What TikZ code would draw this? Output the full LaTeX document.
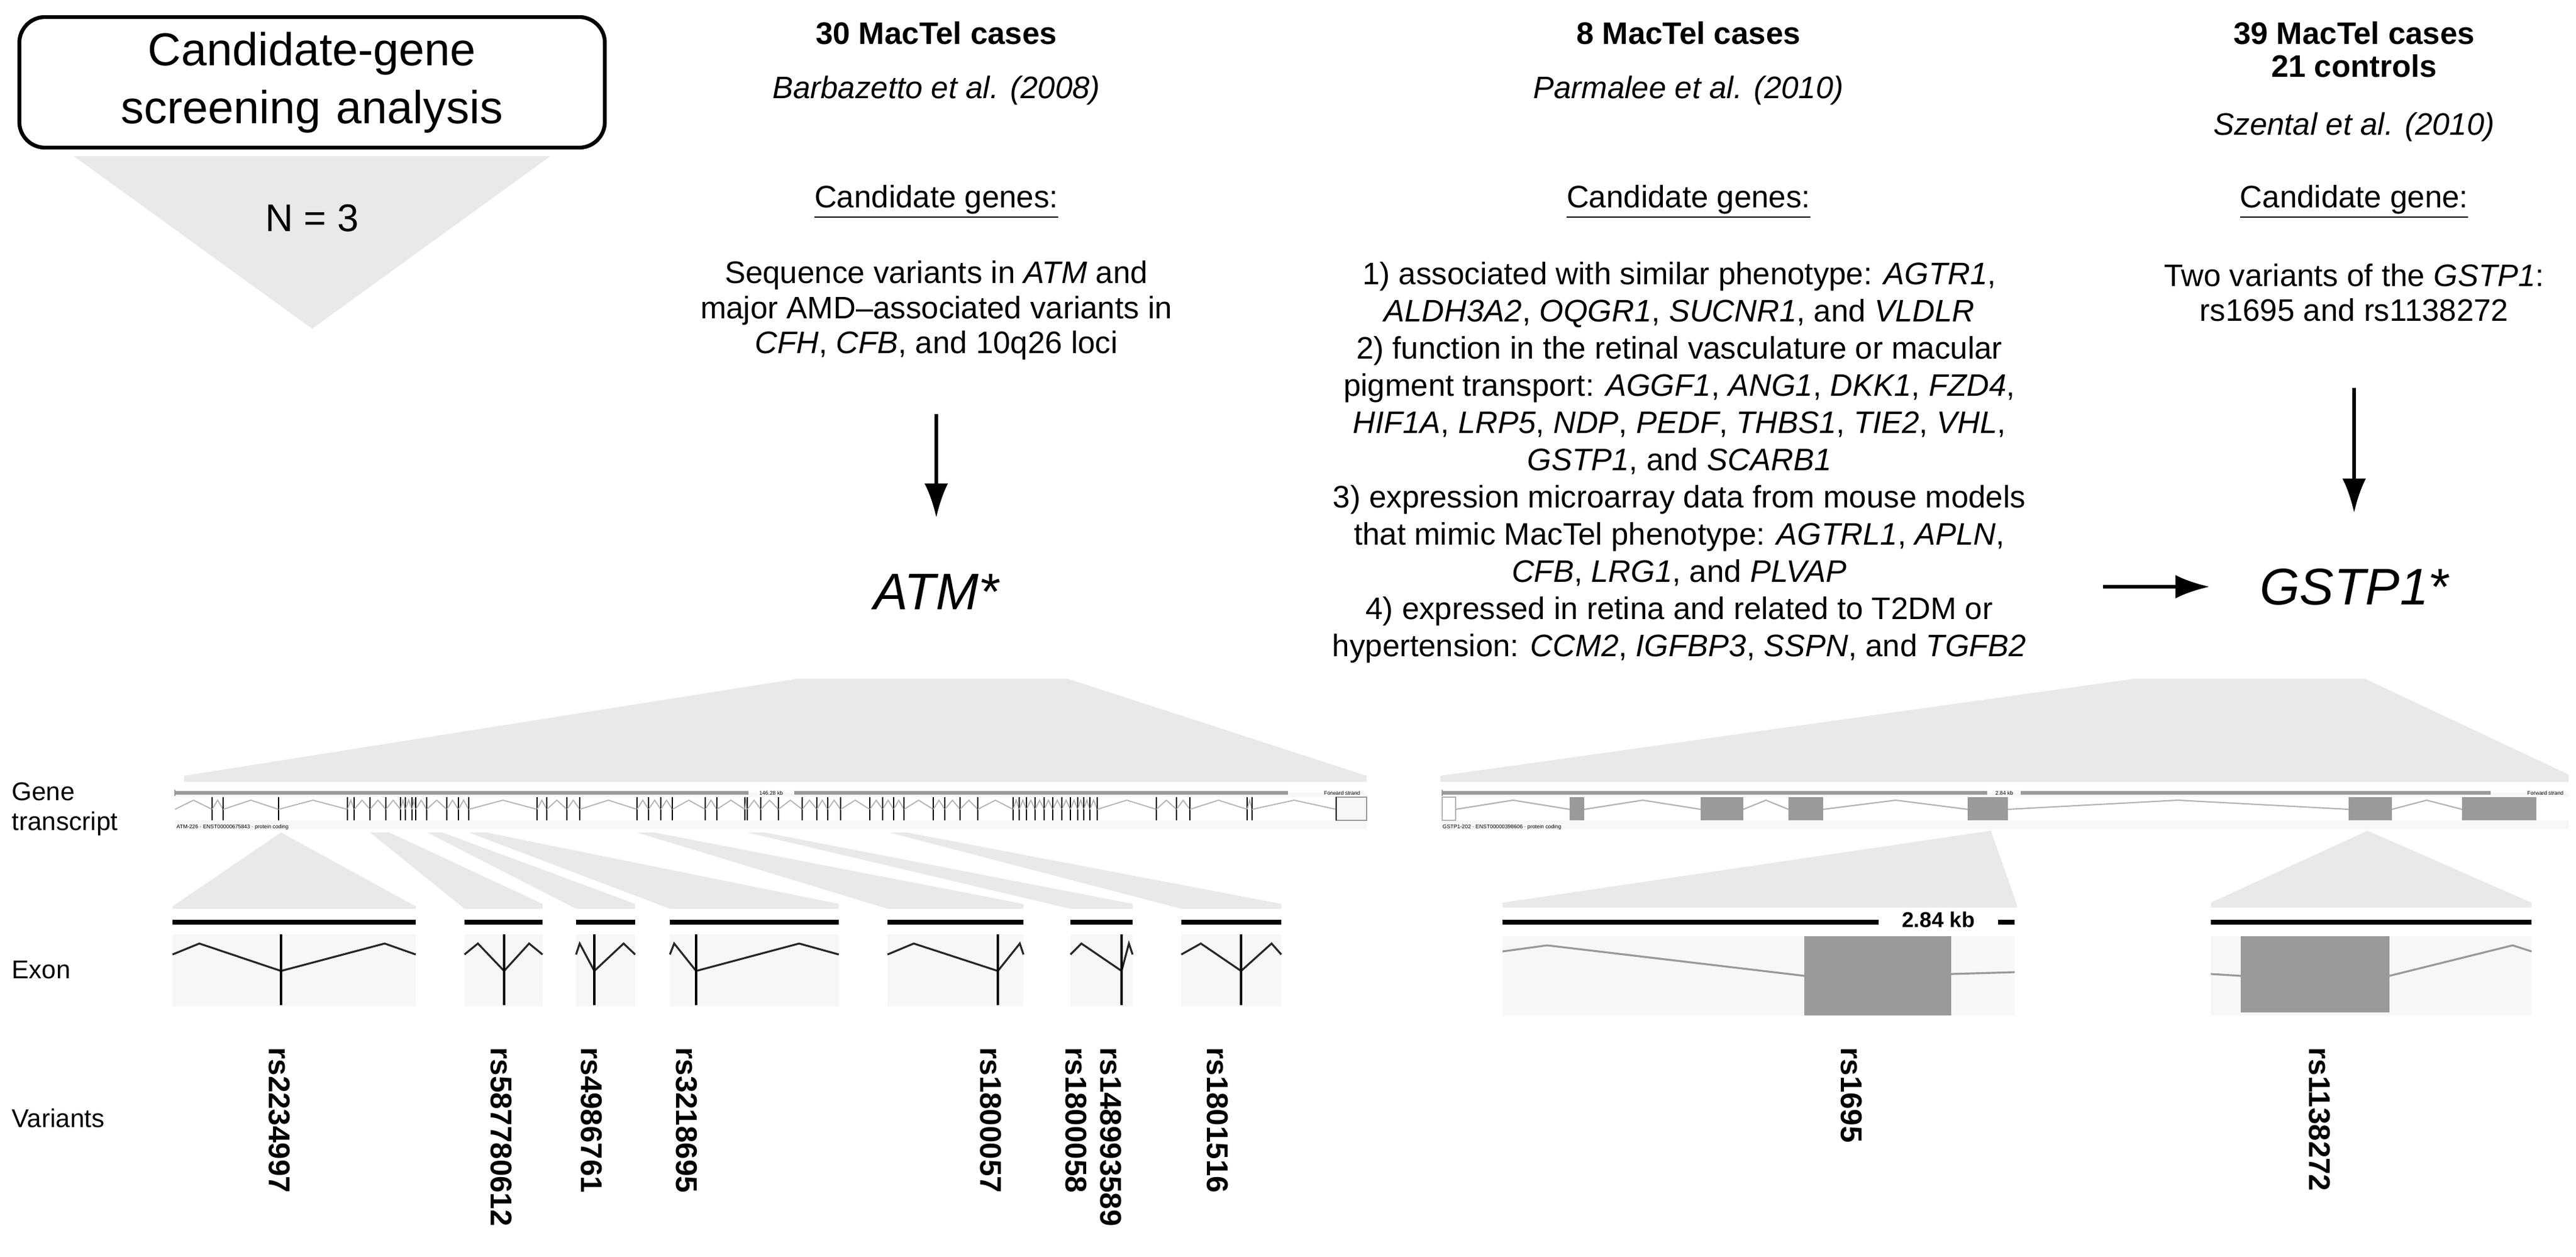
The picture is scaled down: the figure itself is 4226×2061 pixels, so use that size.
\documentclass[tikz,border=0pt]{standalone}
\usepackage{fontspec}
\setmainfont{Liberation Sans}
\usetikzlibrary{arrows.meta}
\definecolor{trap}{HTML}{E9E9E9}
\definecolor{boxbg}{HTML}{F7F7F7}
\definecolor{exong}{HTML}{9A9A9A}
\begin{document}
\begin{tikzpicture}[x=0.01cm,y=-0.01cm,
  txt/.style={font=\fontsize{14.5}{17.4}\selectfont,align=center,inner sep=0},
  hd/.style={txt,font=\fontsize{14.5}{17.4}\selectfont\bfseries},
  cite/.style={txt,font=\fontsize{14.5}{17.4}\selectfont\itshape},
  gene/.style={inner sep=0,font=\fontsize{24}{28}\selectfont\itshape},
  arr/.style={-{Latex[length=16pt,width=11pt]},line width=1.6pt},
  var/.style={rotate=-90,anchor=west,inner sep=0,font=\fontsize{14}{16}\selectfont\bfseries},
  side/.style={anchor=west,inner sep=0,font=\fontsize{12}{14}\selectfont,align=left},
  tr/.style={fill=trap,draw=none},
  bx/.style={fill=boxbg,draw=none},
  intr/.style={draw=gray!70,line width=0.6pt},
  exl/.style={draw=black,line width=1.4pt}]
\useasboundingbox (0,0) rectangle (4226,2061);

% title
\fill[trap] (121,256) -- (903,256) -- (512,539) -- cycle;
\node[draw,line width=1.8pt,rounded corners=12pt,inner sep=0,
  text width=9.6cm,minimum height=2.14cm,align=center,font=\fontsize{21.5}{27}\selectfont] (title) at (512,135)
  {Candidate-gene\\screening analysis};
\node[txt,font=\fontsize{18}{22}\selectfont] (n3) at (512,358) {N = 3};

% column 1
\node[hd] (c1h) at (1536,54) {30 MacTel cases};
\node[cite] (c1c) at (1536,148) {Barbazetto et al. (2008)};
\node[txt] (c1u) at (1536,331) {\underline{Candidate genes:}};
\node[txt,font=\fontsize{14.5}{16.3}\selectfont] (c1t) at (1536,509) {Sequence variants in \textit{ATM} and\\major AMD–associated variants in\\\textit{CFH}, \textit{CFB}, and 10q26 loci};
\node[gene] (atm) at (1536,970) {ATM*};
\coordinate (a1s) at (1536,679);
\draw[arr] (a1s) -- (1536,849);

% column 2
\node[hd] (c2h) at (2770,54) {8 MacTel cases};
\node[cite] (c2c) at (2770,148) {Parmalee et al. (2010)};
\node[txt] (c2u) at (2770,331) {\underline{Candidate genes:}};
\node[txt,font=\fontsize{14.5}{17.35}\selectfont] (c2t) at (2755,758) {1) associated with similar phenotype: \textit{AGTR1},\\
\textit{ALDH3A2}, \textit{OQGR1}, \textit{SUCNR1}, and \textit{VLDLR}\\
2) function in the retinal vasculature or macular\\
pigment transport: \textit{AGGF1}, \textit{ANG1}, \textit{DKK1}, \textit{FZD4},\\
\textit{HIF1A}, \textit{LRP5}, \textit{NDP}, \textit{PEDF}, \textit{THBS1}, \textit{TIE2}, \textit{VHL},\\
\textit{GSTP1}, and \textit{SCARB1}\\
3) expression microarray data from mouse models\\
that mimic MacTel phenotype: \textit{AGTRL1}, \textit{APLN},\\
\textit{CFB}, \textit{LRG1}, and \textit{PLVAP}\\
4) expressed in retina and related to T2DM or\\
hypertension: \textit{CCM2}, \textit{IGFBP3}, \textit{SSPN}, and \textit{TGFB2}};

% column 3
\node[hd] (c3h) at (3862,54) {39 MacTel cases};
\node[hd] (c3h2) at (3862,108) {21 controls};
\node[cite] (c3c) at (3862,208) {Szental et al. (2010)};
\node[txt] (c3u) at (3862,331) {\underline{Candidate gene:}};
\node[txt,font=\fontsize{14.5}{16.3}\selectfont] (c3t) at (3862,480) {Two variants of the \textit{GSTP1}:\\rs1695 and rs1138272};
\node[gene] (gst) at (3862,962) {GSTP1*};
\coordinate (a3s) at (3862,636);
\draw[arr] (a3s) -- (3862,841);
\coordinate (h1) at (3450,962);
\draw[arr] (h1) -- (3625,962);

% left labels
\node[side] (lg) at (19,1327) {Gene\\transcript};
\node[side] (le) at (19,1590) {Exon};
\node[side] (lv) at (19,1833) {Variants};

% ===== ATM =====
\fill[trap] (1307,1113) -- (1752,1113) -- (2242,1272) -- (2242,1282) -- (302,1282) -- (302,1272) -- cycle;
\fill[boxbg] (287,1300) rectangle (2242,1360);
\draw[gray!80,line width=1.6pt] (287,1300) -- (1228,1300) (1303,1300) -- (2113,1300);
\draw[gray!80,line width=0.8pt] (287,1295) -- (287,1305);
\node[inner sep=0,font=\fontsize{2.5}{3}\selectfont] (atmkb) at (1265,1300) {146.28 kb};
\node[inner sep=0,anchor=east,font=\fontsize{2.5}{3}\selectfont] (atmfs) at (2232,1300) {Forward strand};
\node[inner sep=0,anchor=west,font=\fontsize{2.5}{3}\selectfont] (atmlab) at (289,1356) {ATM-226 · ENST00000675843 · protein coding};
\fill[white] (287,1307) rectangle (2192,1345);
\draw[gray!80] (2192,1307) rectangle (2242,1345);
\foreach \x [remember=\x as \lx (initially 287)] in {348,366,457,570,581,607,633,657,665,676,682,700,733,752,769,881,897,930,951,1045,1064,1084,1103,1157,1176,1222,1226,1248,1277,1316,1340,1358,1379,1427,1448,1466,1483,1531,1550,1575,1604,1662,1672,1684,1698,1713,1727,1742,1756,1768,1778,1788,1800,1897,1930,1952,2046,2054,2192}{
  \draw[gray!60,line width=0.5pt] (\lx,1327) -- ({(\lx+\x)/2},1312) -- (\x,1327);
  \draw[black,line width=0.8pt] (\x,1307) -- (\x,1345);
}
% exon zoom bands
\fill[trap] (461,1365) -- (682,1486) -- (682,1490) -- (283,1490) -- (283,1486) -- cycle;
\foreach \ta/\tb/\ba/\bb in {607/639/762/890, 701/726/945/1042, 769/798/1099/1376, 1045/1074/1456/1679, 1226/1255/1756/1858, 1459/1488/1938/2102}
  \fill[trap] (\ta,1365) -- (\tb,1365) -- (\bb,1482) -- (\bb,1490) -- (\ba,1490) -- cycle;
% exon boxes
\foreach \l/\r/\c/\pa/\pb in {283/682/461/327/631, 762/890/827/784/868, 945/1042/975/951/1023, 1099/1376/1142/1106/1311, 1456/1679/1637/1499/1673, 1756/1858/1840/1774/1852, 1938/2102/2036/1970/2086}{
  \fill[boxbg] (\l,1532) rectangle (\r,1650);
  \draw[black,line width=2.2pt] (\l,1512) -- (\r,1512);
  \draw[gray!30!black,line width=0.9pt] (\l,1565) -- (\pa,1547) -- (\c,1592) -- (\pb,1547) -- (\r,1565);
  \draw[exl] (\c,1532) -- (\c,1648);
}
% variants
\node[var] (v1) at (458,1717) {rs2234997};
\node[var] (v2) at (822,1717) {rs587780612};
\node[var] (v3) at (970,1717) {rs4986761};
\node[var] (v4) at (1126,1717) {rs3218695};
\node[var] (v5) at (1625,1717) {rs1800057};
\node[var] (v6) at (1765,1717) {rs1800058};
\node[var] (v7) at (1822,1717) {rs148993589};
\node[var] (v8) at (1997,1717) {rs1801516};

% ===== GSTP1 =====
\fill[trap] (3500,1113) -- (3880,1113) -- (4214,1270) -- (4214,1282) -- (2363,1282) -- (2363,1272) -- cycle;
\fill[boxbg] (2363,1300) rectangle (4214,1360);
\draw[gray!80,line width=1.6pt] (2366,1300) -- (3260,1300) (3315,1300) -- (4086,1300);
\draw[gray!80,line width=0.8pt] (2366,1295) -- (2366,1305);
\node[inner sep=0,font=\fontsize{2.5}{3}\selectfont] (gkb) at (3288,1300) {2.84 kb};
\node[inner sep=0,anchor=east,font=\fontsize{2.5}{3}\selectfont] (gfs) at (4206,1300) {Forward strand};
\node[inner sep=0,anchor=west,font=\fontsize{2.5}{3}\selectfont] (glab) at (2366,1356) {GSTP1-202 · ENST00000398606 · protein coding};
\fill[white] (2366,1307) rectangle (4214,1345);
\draw[gray!60] (2366,1307) rectangle (2388,1345);
\draw[gray!60,line width=0.6pt] (2388,1327) -- (2482,1312) -- (2575,1327)
  (2599,1327) -- (2695,1312) -- (2790,1327) (2860,1327) -- (2897,1312) -- (2934,1327)
  (2991,1327) -- (3110,1312) -- (3228,1327) (3294,1327) -- (3573,1312) -- (3853,1327)
  (3924,1327) -- (3981,1312) -- (4039,1327);
\foreach \a/\b in {2575/2599, 2790/2860, 2934/2991, 3228/3294, 3853/3924, 4039/4161}
  \fill[exong] (\a,1307) rectangle (\b,1345);
% zoom bands
\fill[trap] (3266,1362) -- (3309,1484) -- (3309,1488) -- (2465,1488) -- (2465,1480) -- cycle;
\fill[trap] (3884,1362) -- (4153,1480) -- (4153,1488) -- (3627,1488) -- (3627,1480) -- cycle;
% exon boxes
\fill[boxbg] (2465,1535) rectangle (3305,1665);
\draw[black,line width=2.2pt] (2465,1512) -- (3082,1512) (3278,1512) -- (3305,1512);
\node[inner sep=0,font=\fontsize{10}{12}\selectfont\bfseries] (kb) at (3180,1508) {2.84 kb};
\draw[gray!80,line width=0.9pt] (2465,1560) -- (2538,1550) -- (2960,1600) (3201,1597) -- (3305,1594);
\fill[exong] (2960,1535) rectangle (3201,1665);
\fill[boxbg] (3627,1535) rectangle (4153,1665);
\draw[black,line width=2.2pt] (3627,1512) -- (4153,1512);
\draw[gray!80,line width=0.9pt] (3627,1597) -- (3676,1600) (3920,1600) -- (4122,1550) -- (4153,1560);
\fill[exong] (3676,1535) rectangle (3920,1660);
\node[var] (v9) at (3037,1717) {rs1695};
\node[var] (v10) at (3805,1717) {rs1138272};
\end{tikzpicture}
\end{document}
